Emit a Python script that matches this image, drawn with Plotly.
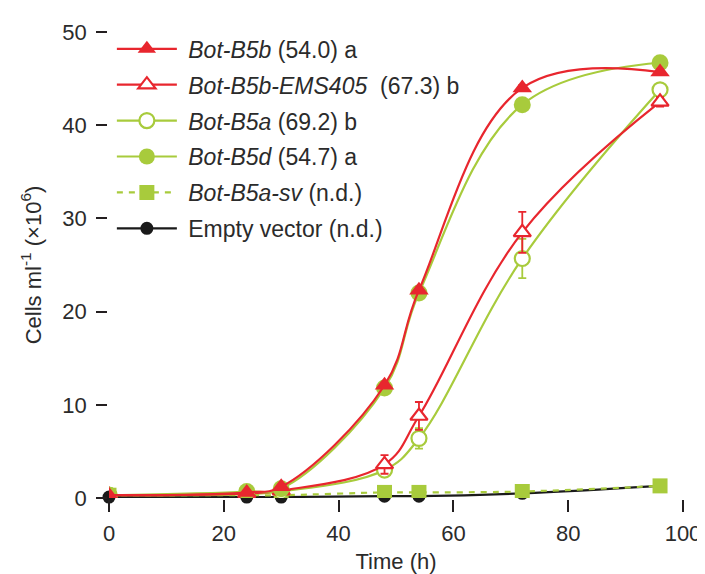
import plotly.graph_objects as go

# ---- data ----
times = [0, 24, 30, 48, 54, 72, 96]
b5b = [0.3, 0.6, 1.2, 12.1, 22.3, 44.0, 45.7]
b5b_err = [0, 0, 0, 0.3, 0.3, 0.3, 0.3]
ems405 = [0.3, 0.5, 0.8, 3.6, 8.8, 28.5, 42.5]
ems405_err = [0, 0, 0.2, 1.0, 1.5, 2.2, 0.5]
b5a = [0.3, 0.4, 0.7, 3.0, 6.4, 25.7, 43.8]
b5a_err = [0, 0, 0.2, 0.6, 1.1, 2.1, 0.5]
b5d = [0.3, 0.7, 1.0, 11.8, 22.0, 42.2, 46.7]
b5d_err = [0, 0, 0, 0.3, 0.3, 0.3, 0.3]
b5a_sv = [0.3, 0.3, 0.3, 0.6, 0.6, 0.7, 1.3]
empty_vec = [0.1, 0.1, 0.1, 0.2, 0.2, 0.5, 1.3]

names = [
    "<i>Bot-B5b</i> (54.0) a",
    "<i>Bot-B5b-EMS405</i>\u00a0\u00a0(67.3) b",
    "<i>Bot-B5a</i> (69.2) b",
    "<i>Bot-B5d</i> (54.7) a",
    "<i>Bot-B5a-sv</i> (n.d.)",
    "Empty vector (n.d.)",
]
x_ticks = [0, 20, 40, 60, 80, 100]
y_ticks = [0, 10, 20, 30, 40, 50]

RED = "#E8262E"
GREEN = "#A8CB3C"
BLACK = "#1a1a1a"
AXIS = "#231F20"
TEXT = "#2b2b2b"
FONT = "Liberation Sans, Arial, sans-serif"
PAD = "\u00a0"

fig = go.Figure()

def add(y, name, z, color, symbol, size, fill=True, dash="solid", err=None):
    fig.add_trace(go.Scatter(
        x=times, y=y, name=PAD + name, legendgroup=name, zorder=z,
        mode="lines+markers",
        line=dict(color=color, width=2.2, shape="spline", smoothing=1.1, dash=dash),
        marker=dict(symbol=symbol, size=size,
                    color=color if fill else "white",
                    line=dict(color=color, width=0 if fill else 2.2)),
        error_y=dict(type="data", array=err, visible=err is not None,
                     color=color, thickness=1.8, width=4),
        cliponaxis=False,
    ))

# legend order = add order; zorder controls drawing order
add(b5b, names[0], 6, RED, "triangle-up", 17, err=b5b_err)
add(ems405, names[1], 4, RED, "triangle-up", 15, fill=False, err=ems405_err)
add(b5a, names[2], 3, GREEN, "circle", 15, fill=False, err=b5a_err)
add(b5d, names[3], 5, GREEN, "circle", 17, err=b5d_err)
add(b5a_sv, names[4], 2, GREEN, "square", 15, dash="6px,6px")
add(empty_vec, names[5], 1, BLACK, "circle", 13)

fig.update_layout(
    width=705, height=574,
    margin=dict(l=101, r=23, t=22, b=77),
    paper_bgcolor="white", plot_bgcolor="white",
    font=dict(family=FONT, size=22, color=TEXT),
    showlegend=True,
    legend=dict(x=0.005, y=1.01, xanchor="left", yanchor="top",
                bgcolor="rgba(0,0,0,0)", tracegroupgap=3,
                font=dict(size=23, color=TEXT), itemwidth=60,
                traceorder="grouped"),
    xaxis=dict(range=[0, 100], tickvals=x_ticks, ticks="outside", ticklen=12,
               tickwidth=1.8, tickcolor=AXIS, showline=True, linecolor=AXIS,
               linewidth=1.8, showgrid=False, zeroline=False,
               ticklabelstandoff=3,
               tickfont=dict(size=22, color=TEXT),
               title=dict(text="Time (h)", font=dict(size=22), standoff=8)),
    yaxis=dict(range=[0, 50], tickvals=y_ticks, ticks="outside", ticklen=11,
               tickwidth=1.8, tickcolor=AXIS, showline=True, linecolor=AXIS,
               linewidth=1.8, showgrid=False, zeroline=False,
               ticklabelstandoff=5,
               tickfont=dict(size=22, color=TEXT),
               title=dict(text="Cells ml<sup>-1</sup> (×10<sup>6</sup>)",
                          font=dict(size=22), standoff=15)),
)

fig.write_html("out.html")
